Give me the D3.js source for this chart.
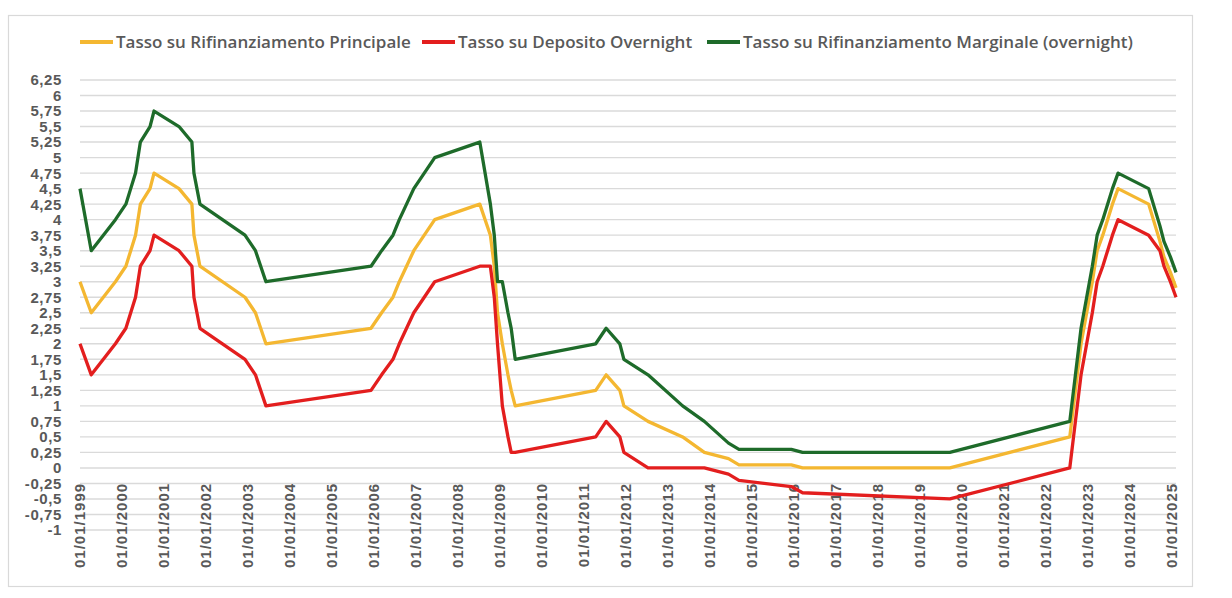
<!DOCTYPE html>
<html>
<head>
<meta charset="utf-8">
<script src="https://cdn.jsdelivr.net/npm/d3@7"></script>
<style>
  body { margin: 0; background: #fff; }
  svg { display: block; }
</style>
</head>
<body>
<script>
// ECB rates, one entry per change date
const dates = ["1999-01-01","1999-04-09","1999-11-05","2000-02-04","2000-03-17","2000-04-28","2000-06-09","2000-09-01","2000-10-06","2001-05-11","2001-08-31","2001-09-18","2001-11-09","2002-12-06","2003-03-07","2003-06-06","2005-12-06","2006-03-08","2006-06-15","2006-08-09","2006-10-11","2006-12-13","2007-03-14","2007-06-13","2008-07-09","2008-10-09","2008-11-12","2008-12-10","2009-01-21","2009-03-11","2009-04-08","2009-05-13","2011-04-13","2011-07-13","2011-11-09","2011-12-14","2012-07-11","2013-05-08","2013-11-13","2014-06-11","2014-09-10","2015-12-09","2016-03-16","2019-09-18","2022-07-27","2022-09-14","2022-11-02","2022-12-21","2023-02-08","2023-03-22","2023-05-10","2023-06-21","2023-08-02","2023-09-20","2024-06-12","2024-09-18","2024-10-23","2024-12-18","2025-02-05"];

const principale = [3.00,2.50,3.00,3.25,3.50,3.75,4.25,4.50,4.75,4.50,4.25,3.75,3.25,2.75,2.50,2.00,2.25,2.50,2.75,3.00,3.25,3.50,3.75,4.00,4.25,3.75,3.25,2.50,2.00,1.50,1.25,1.00,1.25,1.50,1.25,1.00,0.75,0.50,0.25,0.15,0.05,0.05,0.00,0.00,0.50,1.25,2.00,2.50,3.00,3.50,3.75,4.00,4.25,4.50,4.25,3.65,3.40,3.15,2.90];

const deposito = [2.00,1.50,2.00,2.25,2.50,2.75,3.25,3.50,3.75,3.50,3.25,2.75,2.25,1.75,1.50,1.00,1.25,1.50,1.75,2.00,2.25,2.50,2.75,3.00,3.25,3.25,2.75,2.00,1.00,0.50,0.25,0.25,0.50,0.75,0.50,0.25,0.00,0.00,0.00,-0.10,-0.20,-0.30,-0.40,-0.50,0.00,0.75,1.50,2.00,2.50,3.00,3.25,3.50,3.75,4.00,3.75,3.50,3.25,3.00,2.75];

const marginale = [4.50,3.50,4.00,4.25,4.50,4.75,5.25,5.50,5.75,5.50,5.25,4.75,4.25,3.75,3.50,3.00,3.25,3.50,3.75,4.00,4.25,4.50,4.75,5.00,5.25,4.25,3.75,3.00,3.00,2.50,2.25,1.75,2.00,2.25,2.00,1.75,1.50,1.00,0.75,0.40,0.30,0.30,0.25,0.25,0.75,1.50,2.25,2.75,3.25,3.75,4.00,4.25,4.50,4.75,4.50,3.90,3.65,3.40,3.15];

const seriesNames = ["Tasso su Rifinanziamento Principale", "Tasso su Deposito Overnight", "Tasso su Rifinanziamento Marginale (overnight)"];
const seriesColors = ["#f4b731", "#e31e1e", "#1e6b2a"];

const yTicks = [-1,-0.75,-0.5,-0.25,0,0.25,0.5,0.75,1,1.25,1.5,1.75,2,2.25,2.5,2.75,3,3.25,3.5,3.75,4,4.25,4.5,4.75,5,5.25,5.5,5.75,6,6.25];
const xTickYears = d3.range(1999, 2026);

const W = 1232, H = 598;
const parse = d3.timeParse("%Y-%m-%d");
const dd = dates.map(parse);

const svg = d3.select("body").append("svg")
    .attr("width", W).attr("height", H);

// chart frame
svg.append("rect")
    .attr("x", 8.5).attr("y", 15.5)
    .attr("width", 1184).attr("height", 571)
    .attr("fill", "#fff")
    .attr("stroke", "#d9d9d9")
    .attr("stroke-width", 1.2);

let x = d3.scaleTime()
    .domain([new Date(1999, 0, 1), new Date(2025, 0, 1)])
    .range([80, 1172]);

let y = d3.scaleLinear()
    .domain([-1, 6.25])
    .range([530, 80]);

const xEnd = x(dd[dd.length - 1]);

// gridlines
svg.append("g")
    .selectAll("line")
    .data(yTicks)
    .enter()
    .append("line")
    .attr("x1", x(dd[0]))
    .attr("x2", xEnd)
    .attr("y1", d => y(d))
    .attr("y2", d => y(d))
    .attr("stroke", "#dadada")
    .attr("stroke-width", 1.4);

// y labels
const fmt = v => String(v).replace(".", ",");
svg.append("g")
    .selectAll("text")
    .data(yTicks)
    .enter()
    .append("text")
    .attr("x", 62)
    .attr("y", d => y(d))
    .attr("dy", "0.36em")
    .attr("text-anchor", "end")
    .style("font-family", "Liberation Sans, Arial, sans-serif")
    .style("font-weight", "bold")
    .style("font-size", "15px")
    .style("letter-spacing", "0.6px")
    .attr("fill", "#595959")
    .text(fmt);

// x labels, rotated, hanging just below the zero line
const xFmt = d3.timeFormat("%d/%m/%Y");
svg.append("g")
    .selectAll("text")
    .data(xTickYears.map(yr => new Date(yr, 0, 1)))
    .enter()
    .append("text")
    .attr("transform", d => `translate(${x(d)}, ${y(0) + 15}) rotate(-90)`)
    .attr("dy", "0.36em")
    .attr("text-anchor", "end")
    .style("font-family", "Liberation Sans, Arial, sans-serif")
    .style("font-weight", "bold")
    .style("font-size", "15px")
    .style("letter-spacing", "1px")
    .attr("fill", "#595959")
    .text(xFmt);

// lines
const series = [principale, deposito, marginale];
const line = d3.line()
    .x((d, i) => x(dd[i]))
    .y(d => y(d));

svg.append("g")
    .selectAll("path")
    .data(series)
    .enter()
    .append("path")
    .attr("d", d => line(d))
    .attr("fill", "none")
    .attr("stroke", (d, i) => seriesColors[i])
    .attr("stroke-width", 3.3)
    .attr("stroke-linejoin", "round");

// legend
const legendX = [80, 422, 707];
const legend = svg.append("g")
    .selectAll("g")
    .data(seriesNames)
    .enter()
    .append("g")
    .attr("transform", (d, i) => `translate(${legendX[i]}, 42)`);

legend.append("line")
    .attr("x1", 0).attr("x2", 33)
    .attr("stroke", (d, i) => seriesColors[i])
    .attr("stroke-width", 4);

legend.append("text")
    .attr("x", 36)
    .attr("dy", "0.35em")
    .style("font-family", "Open Sans, sans-serif")
    .style("font-weight", 600)
    .style("font-size", "17px")
    .attr("fill", "#595959")
    .text(d => d);
</script>
</body>
</html>
